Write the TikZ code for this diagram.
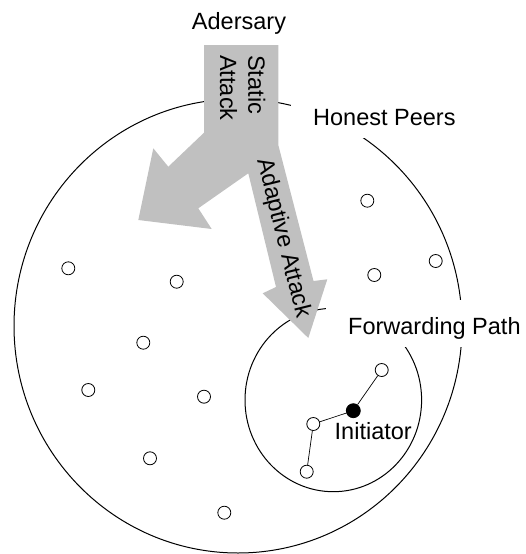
\documentclass[tikz,border=0pt]{standalone}
\usepackage{fontspec}
\setmainfont{Liberation Sans}
\definecolor{attackgray}{RGB}{192,192,192}
\begin{document}
\begin{tikzpicture}[x=1pt,y=-1pt,
  lbl/.style={font=\fontsize{23.5}{28}\selectfont, inner sep=0pt},
  cover/.style={lbl, fill=white, inner xsep=22pt, inner ysep=8pt, text height=26pt, text depth=5pt},
  peer/.style={circle, draw, fill=white, minimum size=13pt, inner sep=0pt, line width=0.8pt},
  source/.style={peer, fill=black, minimum size=14pt},
  link/.style={line width=0.7pt},
  ring/.style={line width=1pt},
  attack/.style={fill=attackgray, draw=none}]
\useasboundingbox (0,0) rectangle (525,554);

% population of honest peers and the forwarding path region
\draw[ring] (238,326) ellipse [x radius=224, y radius=227];
\draw[ring] (333.3,400) ellipse [x radius=88.3, y radius=91.7];

% adversary: static attack (down-left) and adaptive attack (towards the path)
\fill[attack] (204,45) -- (278.3,45) -- (278.3,145) -- (313.5,281) -- (327.3,279.3)
  -- (308.3,338) -- (262.7,293.3) -- (276,287) -- (248.3,173.3) -- (198.3,208.3)
  -- (211.7,229) -- (138.3,220) -- (153.3,148.3) -- (168.3,166.7) -- (204,132.7) -- cycle;

% labels
\node[lbl, anchor=base] (adv) at (239,29.3) {Adersary};
\node[lbl, rotate=-90, anchor=base west] (static) at (248.3,55) {Static};
\node[lbl, rotate=-90, anchor=base west] (staticb) at (220,55) {Attack};
\node[lbl, rotate=-76, anchor=base west] (adaptive) at (257.4,160) {Adaptive Attack};
\node[cover, anchor=base west] (honest) at (291,125) {Honest Peers};
\node[cover, anchor=base west] (fwd) at (326,334) {Forwarding Path};
\node[lbl, anchor=base west] (initlbl) at (334.5,439) {Initiator};

% peers
\node[peer] (p1) at (68.3,268.3) {};
\node[peer] (p2) at (176.7,281.7) {};
\node[peer] (p3) at (143.3,342.7) {};
\node[peer] (p4) at (88.3,390) {};
\node[peer] (p5) at (204,396.7) {};
\node[peer] (p6) at (150,458.3) {};
\node[peer] (p7) at (224.3,512.7) {};
\node[peer] (p8) at (367.3,200.7) {};
\node[peer] (p9) at (435.7,261) {};
\node[peer] (p10) at (374.3,275) {};

% forwarding path
\node[peer] (f1) at (381.7,370) {};
\node[source] (ini) at (353.3,410.7) {};
\node[peer] (f2) at (313.3,424) {};
\node[peer] (f3) at (306.7,471.7) {};
\draw[link] (f3) -- (f2) -- (ini) -- (f1);
\end{tikzpicture}
\end{document}
